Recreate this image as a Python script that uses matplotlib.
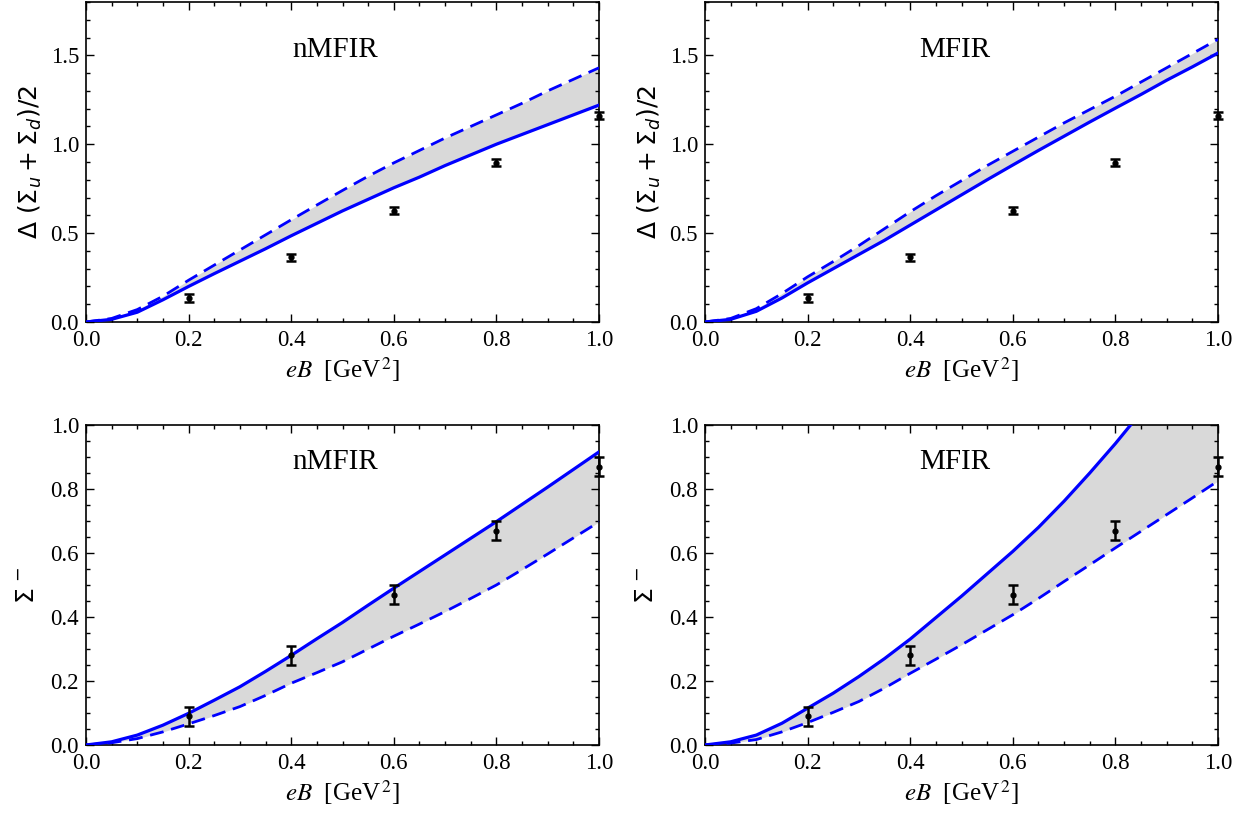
import numpy as np
import matplotlib
matplotlib.use('Agg')
import matplotlib.pyplot as plt
from matplotlib.ticker import MultipleLocator

plt.rcParams['font.family'] = ['Liberation Serif', 'DejaVu Serif']

# eB grid for the model curves [GeV^2]
eB = [0.0, 0.05, 0.10, 0.15, 0.20, 0.25, 0.30, 0.35, 0.40, 0.45, 0.50,
      0.55, 0.60, 0.65, 0.70, 0.75, 0.80, 0.85, 0.90, 0.95, 1.00]

# top row: Delta (Sigma_u + Sigma_d)/2
sum_nmfir_solid = [0, .015, .055, .125, .20, .272, .342, .412, .485, .555, .625,
                   .69, .755, .815, .88, .94, 1.0, 1.055, 1.11, 1.165, 1.22]
sum_nmfir_dash = [0, .02, .07, .145, .235, .32, .405, .49, .575, .658, .74,
                  .82, .895, .965, 1.035, 1.10, 1.165, 1.23, 1.30, 1.365, 1.43]
sum_mfir_solid = [0, .015, .06, .135, .22, .30, .38, .46, .545, .63, .715,
                  .80, .883, .965, 1.045, 1.125, 1.203, 1.28, 1.36, 1.435, 1.513]
sum_mfir_dash = [0, .02, .075, .16, .254, .34, .43, .525, .62, .71, .795,
                 .88, .96, 1.04, 1.12, 1.195, 1.27, 1.35, 1.43, 1.51, 1.59]

# bottom row: Sigma^-
sig_nmfir_solid = [0, .01, .031, .062, .099, .14, .182, .23, .28, .332, .383,
                   .437, .49, .542, .594, .646, .698, .752, .806, .861, .916]
sig_nmfir_dash = [0, .007, .02, .041, .066, .092, .12, .155, .193, .226, .26,
                  .30, .34, .378, .417, .458, .50, .548, .597, .647, .697]
sig_mfir_solid = [0, .01, .031, .068, .115, .162, .214, .27, .331, .398, .465,
                  .535, .605, .68, .762, .85, .942, 1.04, 1.14, 1.24, 1.34]
sig_mfir_dash = [0, .006, .017, .041, .07, .102, .136, .178, .224, .268, .313,
                 .36, .407, .458, .511, .563, .616, .668, .72, .772, .825]

# lattice points
eB_pts = [0.2, 0.4, 0.6, 0.8, 1.0]
sum_pts = [0.135, 0.365, 0.625, 0.895, 1.16]
sum_err = [0.02, 0.02, 0.02, 0.02, 0.02]
sig_pts = [0.09, 0.28, 0.47, 0.67, 0.87]
sig_err = [0.03, 0.03, 0.03, 0.03, 0.03]

fig = plt.figure(figsize=(12.45, 8.25), dpi=100)
W, H = 1245, 825


def make_ax(left, top, right, bottom):
    return fig.add_axes([left / W, 1 - bottom / H, (right - left) / W, (bottom - top) / H])


panels = [
    (make_ax(86, 2, 599, 322), sum_nmfir_solid, sum_nmfir_dash, sum_pts, sum_err, 'nMFIR', 'top'),
    (make_ax(705, 2, 1218, 322), sum_mfir_solid, sum_mfir_dash, sum_pts, sum_err, 'MFIR', 'top'),
    (make_ax(86, 425, 599, 745), sig_nmfir_solid, sig_nmfir_dash, sig_pts, sig_err, 'nMFIR', 'bot'),
    (make_ax(705, 425, 1218, 745), sig_mfir_solid, sig_mfir_dash, sig_pts, sig_err, 'MFIR', 'bot'),
]

for ax, solid, dash, pts, err, name, row in panels:
    ax.fill_between(eB, solid, dash, color='#d9d9d9', lw=0, zorder=1)
    ax.plot(eB, solid, color='#0000ff', lw=2.3, zorder=3, solid_joinstyle='round')
    ax.plot(eB, dash, color='#0000ff', lw=2.0, ls=(0, (5, 2.8)), zorder=3)
    ax.errorbar(eB_pts, pts, yerr=err, fmt='o', ms=3.5, color='black', ecolor='black',
                elinewidth=1.8, capsize=3.5, capthick=1.8, zorder=4, clip_on=False)

    ax.set_xlim(0, 1.0)
    ax.xaxis.set_minor_locator(MultipleLocator(0.05))
    ax.set_xticks([0, 0.2, 0.4, 0.6, 0.8, 1.0])
    ax.set_xticklabels(['0.0', '0.2', '0.4', '0.6', '0.8', '1.0'])

    if row == 'top':
        ax.set_ylim(0, 1.8)
        ax.yaxis.set_minor_locator(MultipleLocator(0.1))
        ax.set_yticks([0, 0.5, 1.0, 1.5])
        ax.set_yticklabels(['0.0', '0.5', '1.0', '1.5'])
        ax.set_ylabel(r'$\Delta\ (\Sigma_u + \Sigma_d)/2$', fontsize=18,
                      math_fontfamily='dejavusans', labelpad=5)
        ax.text(0.486, 0.85, name, transform=ax.transAxes, ha='center', va='center', fontsize=21)
    else:
        ax.set_ylim(0, 1.0)
        ax.yaxis.set_minor_locator(MultipleLocator(0.05))
        ax.set_yticks([0, 0.2, 0.4, 0.6, 0.8, 1.0])
        ax.set_yticklabels(['0.0', '0.2', '0.4', '0.6', '0.8', '1.0'])
        ax.set_ylabel(r'$\Sigma^{\,-}$', fontsize=18, math_fontfamily='dejavusans', labelpad=8)
        ax.text(0.486, 0.885, name, transform=ax.transAxes, ha='center', va='center', fontsize=21)

    ax.set_xlabel(r'$eB$  [GeV$^{\,2}$]', fontsize=18, math_fontfamily='stix', labelpad=3)

    ax.tick_params(which='both', direction='in', top=True, right=True, labelsize=16.5, width=1.0)
    ax.tick_params(which='major', length=6)
    ax.tick_params(axis='x', which='major', pad=6)
    ax.tick_params(axis='y', which='major', pad=5)
    ax.tick_params(which='minor', length=3)
    for sp in ax.spines.values():
        sp.set_linewidth(1.2)

fig.savefig('out.png', dpi=100)
